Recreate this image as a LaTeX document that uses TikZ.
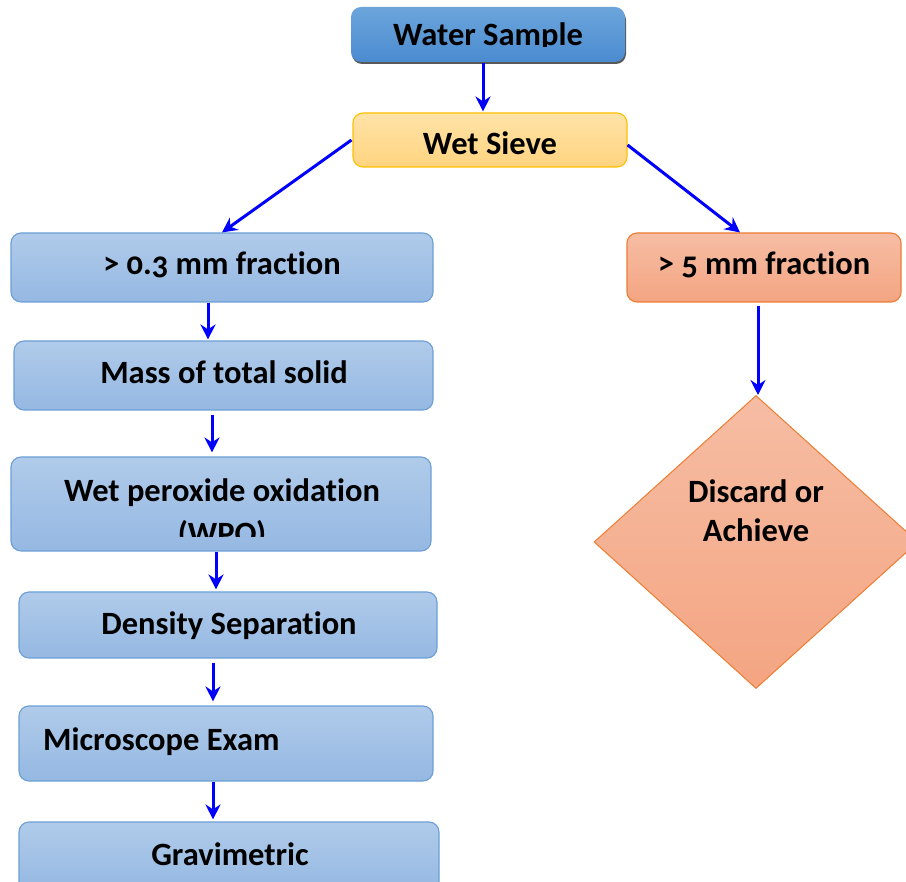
\documentclass[tikz,border=0pt]{standalone}
\usepackage{fontspec}
\setmainfont{Carlito}[Ligatures={NoCommon}, Numbers=OldStyle]
\usetikzlibrary{arrows.meta,shapes.geometric}

\definecolor{bluetop}{HTML}{B0CBEA}
\definecolor{bluebot}{HTML}{95B8E2}
\definecolor{bluebd}{HTML}{6D9FD6}
\definecolor{deeptop}{HTML}{6CA5DB}
\definecolor{deepbot}{HTML}{4A8BD0}
\definecolor{yeltop}{HTML}{FFE3A8}
\definecolor{yelbot}{HTML}{FFD47F}
\definecolor{yelbd}{HTML}{FFC000}
\definecolor{saltop}{HTML}{F6BDA4}
\definecolor{salbot}{HTML}{F4A582}
\definecolor{salbd}{HTML}{ED7D31}
\definecolor{arrowblue}{HTML}{0000FF}

\begin{document}
\begin{tikzpicture}[x=1pt,y=-1pt,
  box/.style={rectangle, rounded corners=10pt, inner sep=0pt, line width=1.1pt},
  stepbox/.style={box, draw=bluebd, top color=bluetop, bottom color=bluebot},
  lbl/.style={anchor=base, inner sep=0pt, font=\bfseries\fontsize{32.5}{38}\selectfont},
  arr/.style={draw=arrowblue, line width=3pt, -{Stealth[length=15pt,width=15pt,inset=5pt]}}
]
\useasboundingbox (0,0) rectangle (906,882);
\fill[white] (0,0) rectangle (906,882);
\begin{scope}
\clip (0,0) rectangle (906,882);

% top box with its shadow
\fill[gray!70!black, rounded corners=10pt] (352,10) rectangle (626,64);
\node[box, top color=deeptop, bottom color=deepbot, minimum width=274, minimum height=55] (water) at (488,34.5) {};
\node[box, draw=yelbd, top color=yeltop, bottom color=yelbot, minimum width=274, minimum height=54] (sieve) at (490,140) {};

% left column
\node[stepbox, minimum width=422, minimum height=69] (fine) at (222,267.5) {};
\node[stepbox, minimum width=419, minimum height=69] (mass) at (223.5,375.5) {};
\node[stepbox, minimum width=420, minimum height=94] (wpo) at (221,504) {};
\node[stepbox, minimum width=418, minimum height=66] (dens) at (228,625) {};
\node[stepbox, minimum width=414, minimum height=75] (micro) at (226,743.5) {};
\node[stepbox, minimum width=420, minimum height=70] (grav) at (229,857) {};

% right column
\node[box, draw=salbd, top color=saltop, bottom color=salbot, minimum width=274, minimum height=69] (coarse) at (764,267.5) {};
\node[diamond, draw=salbd, line width=1pt, inner sep=0pt, top color=saltop, bottom color=salbot, minimum width=324, minimum height=293] (dia) at (756,542) {};

% labels
\begin{scope}
\clip (340,0) rectangle (640,47);
\node[lbl] (waterlbl) at (488,46) {Water Sample};
\end{scope}
\node[lbl] (sievelbl) at (490,155) {Wet Sieve};
\node[lbl] (finelbl) at (222,275) {> 0.3 mm fraction};
\node[lbl] (masslbl) at (224,384) {Mass of total solid};
\node[lbl] (wpolbl) at (222,502) {Wet peroxide oxidation};
\begin{scope}
\clip (0,510) rectangle (440,537);
\node[lbl] (wpolbl2) at (222,545) {(WPO)};
\end{scope}
\node[lbl] (denslbl) at (229,635) {Density Separation};
\node[lbl, anchor=base west] (microlbl) at (43,750) {Microscope Exam};
\node[lbl] (gravlbl) at (230,865) {Gravimetric};
\node[lbl] (coarselbl) at (764,275) {> 5 mm fraction};
\node[lbl] (dialbl1) at (756,503) {Discard or};
\node[lbl] (dialbl2) at (756,542) {Achieve};

% connectors
\draw[arr] ([xshift=-5pt]water.south) -- ([xshift=-7pt,yshift=1pt]sieve.north);
\draw[arr] ([xshift=-1pt]sieve.west) -- (fine.north);
\draw[arr] ([yshift=-5pt]sieve.east) -- ([xshift=-24pt]coarse.north);
\draw[arr] ([xshift=-14pt]fine.south) -- ([xshift=-15.5pt,yshift=1pt]mass.north);
\draw[arr] ([xshift=-11.5pt,yshift=-4pt]mass.south) -- ([xshift=-9pt,yshift=4pt]wpo.north);
\draw[arr] ([xshift=-5pt]wpo.south) -- ([xshift=-12pt,yshift=2pt]dens.north);
\draw[arr] ([xshift=-15pt,yshift=-4pt]dens.south) -- ([xshift=-13pt,yshift=4pt]micro.north);
\draw[arr] ([xshift=-13pt]micro.south) -- ([xshift=-16pt,yshift=2pt]grav.north);
\draw[arr] ([xshift=-6pt,yshift=-3pt]coarse.south) -- ([xshift=2pt]dia.north);
\end{scope}
\end{tikzpicture}
\end{document}
